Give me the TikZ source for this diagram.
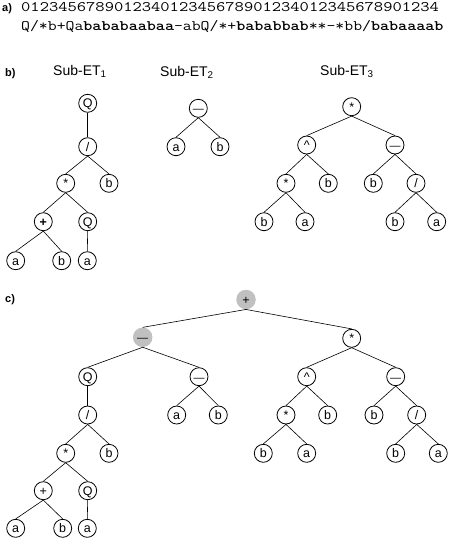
\documentclass[tikz,border=0pt]{standalone}
\usepackage{fontspec}
\usepackage{graphicx}
\setmainfont{Liberation Sans}
\definecolor{lg}{RGB}{192,192,192}
\tikzset{
  nd/.style={circle, draw, line width=0.8pt, minimum size=18pt, inner sep=0pt,
    text height=9pt, text depth=0pt, font=\fontsize{12.5}{12.5}\selectfont},
  gn/.style={circle, fill=lg, minimum size=19.5pt, inner sep=0pt,
    text height=9pt, text depth=0pt, font=\fontsize{12.5}{12.5}\selectfont},
  ed/.style={line width=0.6pt},
  lab/.style={font=\bfseries\fontsize{11}{11}\selectfont, inner sep=0pt, anchor=base west},
  ttl/.style={font=\fontsize{14}{14}\selectfont, inner sep=0pt, anchor=base west},
  seq/.style={inner sep=0pt, anchor=base west}
}
\newcommand{\mydash}{{\fontsize{11}{11}\selectfont —}}
\begin{document}
\begin{tikzpicture}[x=1pt,y=-1pt]
\useasboundingbox (0,0) rectangle (449,539);
% part a
\node[lab] (la) at (2,11) {a)};
\node[seq] (s1) at (21,11.5) {\scalebox{1.2436}[1]{\ttfamily\fontsize{14.5}{15}\selectfont 012345678901234012345678901234012345678901234}};
\node[seq] (s2) at (21,30) {\scalebox{1.1906}[1]{\ttfamily\fontsize{14.5}{15}\selectfont Q/*b+Qa\textbf{bababaabaa}-abQ/*+\textbf{bababbab}**-*bb/\textbf{babaaaab}}};
% part b
\node[lab] (lb) at (5,76.5) {b)};
\node[ttl] (t1) at (53,75.5) {Sub-ET\textsubscript{1}};
\node[ttl] (t2) at (160,76) {Sub-ET\textsubscript{2}};
\node[ttl] (t3) at (320,75.5) {Sub-ET\textsubscript{3}};
% Sub-ET1
\node[nd] (e1q) at (87.7,103.3) {Q};
\node[nd] (e1d) at (87.7,146.7) {/};
\node[nd] (e1m) at (65.7,183.3) {*};
\node[nd] (e1b) at (109,183.3) {b};
\node[nd] (e1p) at (43.3,221.7) {\textbf{+}};
\node[nd] (e1q2) at (87.7,221.7) {Q};
\node[nd] (e1a) at (15.7,260.7) {a};
\node[nd] (e1b2) at (61.7,260.7) {b};
\node[nd] (e1a2) at (87.3,260.7) {a};
\draw[ed] (e1q.south) -- (e1d.north);
\draw[ed] (e1d.south) -- (e1m.north);
\draw[ed] (e1d.south) -- (e1b.north);
\draw[ed] (e1m.south) -- (e1p.north);
\draw[ed] (e1m.south) -- (e1q2.north);
\draw[ed] (e1p.south) -- (e1a.north);
\draw[ed] (e1p.south) -- (e1b2.north);
\draw[ed] (e1q2.south) -- (e1a2.north);
% Sub-ET2
\node[nd] (e2r) at (198.3,108.3) {\mydash};
\node[nd] (e2a) at (176,146.7) {a};
\node[nd] (e2b) at (220,146.7) {b};
\draw[ed] (e2r.south) -- (e2a.north);
\draw[ed] (e2r.south) -- (e2b.north);
% Sub-ET3
\node[nd] (e3r) at (351.7,106.7) {*};
\node[nd] (e3c) at (306.7,145) {\textasciicircum};
\node[nd] (e3m) at (395,145) {\mydash};
\node[nd] (e3s) at (286,183.3) {*};
\node[nd] (e3b1) at (328.3,183.3) {b};
\node[nd] (e3b2) at (373.3,183.3) {b};
\node[nd] (e3d) at (416,183.3) {/};
\node[nd] (e3b3) at (264,221.7) {b};
\node[nd] (e3a1) at (305,221.7) {a};
\node[nd] (e3b4) at (395,221.7) {b};
\node[nd] (e3a2) at (436.7,221.7) {a};
\draw[ed] (e3r.south) -- (e3c.north);
\draw[ed] (e3r.south) -- (e3m.north);
\draw[ed] (e3c.south) -- (e3s.north);
\draw[ed] (e3c.south) -- (e3b1.north);
\draw[ed] (e3m.south) -- (e3b2.north);
\draw[ed] (e3m.south) -- (e3d.north);
\draw[ed] (e3s.south) -- (e3b3.north);
\draw[ed] (e3s.south) -- (e3a1.north);
\draw[ed] (e3d.south) -- (e3b4.north);
\draw[ed] (e3d.south) -- (e3a2.north);
% part c
\node[lab] (lc) at (5,302) {c)};
\node[gn] (cr) at (246,299.5) {+};
\node[gn] (cm) at (142.7,337.3) {\mydash};
\node[nd] (cq) at (87.7,376.7) {Q};
\node[nd] (cm2) at (199,376.7) {\mydash};
\node[nd] (cd) at (87.7,415) {/};
\node[nd] (ca0) at (176.7,415) {a};
\node[nd] (cb0) at (218.3,415) {b};
\node[nd] (cs) at (65.7,453.3) {*};
\node[nd] (cb1) at (109,453.3) {b};
\node[nd] (cp) at (43.3,490.7) {+};
\node[nd] (cq2) at (87.7,490.7) {Q};
\node[nd] (ca1) at (15.7,528.3) {a};
\node[nd] (cb2) at (62.7,528.3) {b};
\node[nd] (ca2) at (87.3,528.3) {a};
\draw[ed] (cr.south) -- (cm.north);
\draw[ed] (cm.south) -- (cq.north);
\draw[ed] (cm.south) -- (cm2.north);
\draw[ed] (cq.south) -- (cd.north);
\draw[ed] (cm2.south) -- (ca0.north);
\draw[ed] (cm2.south) -- (cb0.north);
\draw[ed] (cd.south) -- (cs.north);
\draw[ed] (cd.south) -- (cb1.north);
\draw[ed] (cs.south) -- (cp.north);
\draw[ed] (cs.south) -- (cq2.north);
\draw[ed] (cp.south) -- (ca1.north);
\draw[ed] (cp.south) -- (cb2.north);
\draw[ed] (cq2.south) -- (ca2.north);
% right subtree
\node[nd] (dr) at (351.7,338.3) {*};
\node[nd] (dc) at (306.7,376.7) {\textasciicircum};
\node[nd] (dm) at (395.7,376.7) {\mydash};
\node[nd] (ds) at (286,415) {*};
\node[nd] (db1) at (327.7,415) {b};
\node[nd] (db2) at (374,415) {b};
\node[nd] (dd) at (416.7,415) {/};
\node[nd] (db3) at (263.3,453.3) {b};
\node[nd] (da1) at (306.7,453.3) {a};
\node[nd] (db4) at (395.7,453.3) {b};
\node[nd] (da2) at (438.3,453.3) {a};
\draw[ed] (cr.south) -- (dr.north);
\draw[ed] (dr.south) -- (dc.north);
\draw[ed] (dr.south) -- (dm.north);
\draw[ed] (dc.south) -- (ds.north);
\draw[ed] (dc.south) -- (db1.north);
\draw[ed] (dm.south) -- (db2.north);
\draw[ed] (dm.south) -- (dd.north);
\draw[ed] (ds.south) -- (db3.north);
\draw[ed] (ds.south) -- (da1.north);
\draw[ed] (dd.south) -- (db4.north);
\draw[ed] (dd.south) -- (da2.north);
\end{tikzpicture}
\end{document}
